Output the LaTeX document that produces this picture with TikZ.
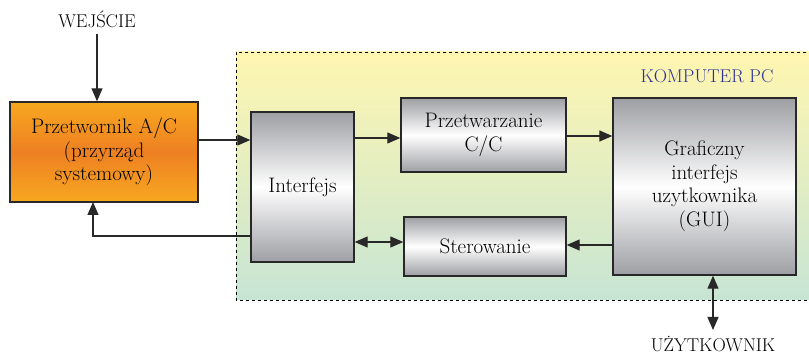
\documentclass[tikz,border=0pt]{standalone}
\usepackage{fontspec}
\usetikzlibrary{arrows.meta}
\definecolor{bgtop}{RGB}{255,246,176}
\definecolor{bgbot}{RGB}{199,229,212}
\definecolor{grayend}{RGB}{158,159,164}
\definecolor{orlight}{RGB}{247,168,32}
\definecolor{ordark}{RGB}{238,128,34}
\definecolor{pcblue}{RGB}{45,50,150}
\definecolor{edge}{RGB}{40,40,40}
\tikzset{
  box/.style={draw=edge, line width=1.4pt, inner sep=2pt, align=center,
    font=\fontsize{21}{23.5}\selectfont},
  graybox/.style={box, top color=grayend, bottom color=grayend, middle color=white},
  orangebox/.style={box, top color=orlight, bottom color=orlight, middle color=ordark},
  arr/.style={line width=1.2pt, draw=edge, -{Triangle[length=13pt,width=11pt]}},
  darr/.style={line width=1.2pt, draw=edge, {Triangle[length=13pt,width=11pt]}-{Triangle[length=13pt,width=11pt]}},
  lbl/.style={font=\fontsize{18.5}{20}\selectfont, inner sep=0pt, anchor=base},
}
\begin{document}
\begin{tikzpicture}[x=1pt,y=-1pt]
\useasboundingbox (0,0) rectangle (809,355);
% background region
\shade[top color=bgtop, bottom color=bgbot] (236,52) rectangle (812,300);
\draw[dashed, line width=0.8pt] (812,52) -- (236,52) -- (236,300) -- (812,300);
\node[lbl, text=pcblue] (pc) at (707,83) {KOMPUTER PC};
% boxes
\node[orangebox, minimum width=188pt, minimum height=100pt] (conv) at (104,152)
  {Przetwornik A/C\\(przyrząd\\systemowy)};
\node[graybox, minimum width=103pt, minimum height=150pt] (intf) at (302.5,187) {Interfejs};
\node[graybox, minimum width=165pt, minimum height=74pt] (proc) at (483.5,135) {Przetwarzanie\\C/C};
\node[graybox, minimum width=162pt, minimum height=59pt] (ster) at (485,246.5) {Sterowanie};
\node[graybox, minimum width=183pt, minimum height=177pt] (gui) at (704.5,186.5)
  {Graficzny\\interfejs\\uzytkownika\\(GUI)};
% labels
\node[lbl] (in) at (97,28) {WEJŚCIE};
\node[lbl] (user) at (713,352) {UŻYTKOWNIK};
\coordinate (inend) at (97,34);
\coordinate (userend) at (713,330);
% connectors
\draw[arr] (inend) -- (inend |- conv.north);
\draw[arr] (conv.east |- 0,140) -- (intf.west |- 0,140);
\draw[arr] (intf.east |- 0,138) -- (proc.west |- 0,138);
\draw[arr] (proc.east |- 0,136) -- (gui.west |- 0,136);
\draw[arr] (gui.west |- 0,245) -- (ster.east |- 0,245);
\draw[darr] (intf.east |- 0,242) -- (ster.west |- 0,242);
\draw[arr] (intf.west |- 0,236) -- (93,236) -- (93,202);
\draw[darr] (gui.south -| userend) -- (userend);
\end{tikzpicture}
\end{document}
